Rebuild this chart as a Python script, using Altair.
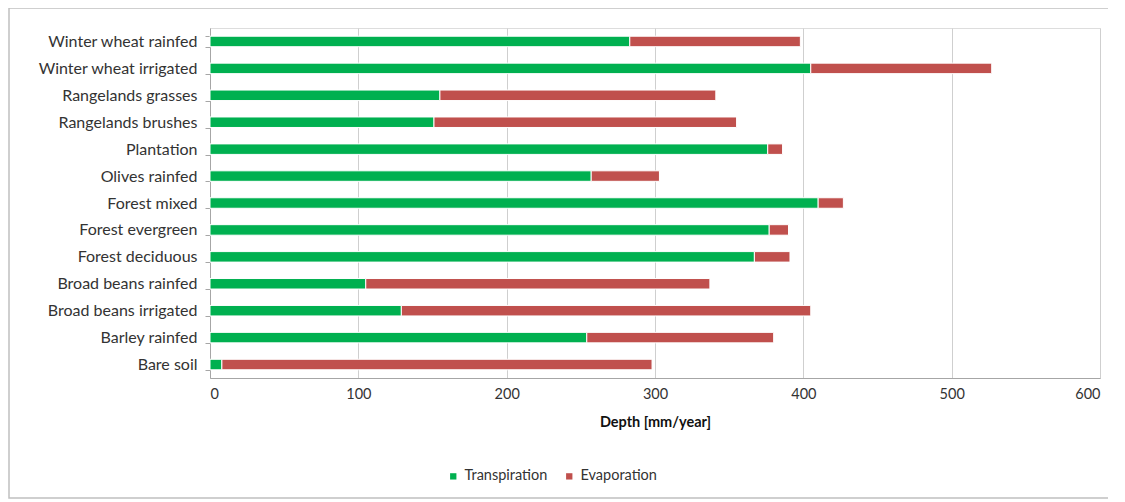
import altair as alt
import pandas as pd

categories = [
    "Winter wheat rainfed", "Winter wheat irrigated", "Rangelands grasses",
    "Rangelands brushes", "Plantation", "Olives rainfed", "Forest mixed",
    "Forest evergreen", "Forest deciduous", "Broad beans rainfed",
    "Broad beans irrigated", "Barley rainfed", "Bare soil",
]
transpiration = [283, 405, 155, 151, 376, 257, 410, 377, 367, 105, 129, 254, 8]
evaporation = [115, 122, 186, 204, 10, 46, 17, 13, 24, 232, 276, 126, 290]
series = ["Transpiration", "Evaporation"]
colors = ["#00B050", "#C0504D"]

rows = []
for c, t, e in zip(categories, transpiration, evaporation):
    rows.append({"Category": c, "Series": "Transpiration", "Value": t, "ord": 0})
    rows.append({"Category": c, "Series": "Evaporation", "Value": e, "ord": 1})
df = pd.DataFrame(rows)

FONT = "Lato"

bars = alt.Chart(df).mark_bar(size=10.5, stroke="white", strokeWidth=1).encode(
    y=alt.Y("Category:N", sort=categories, title=None,
            scale=alt.Scale(paddingInner=0.6, paddingOuter=0.3),
            axis=alt.Axis(labelFontSize=16, labelColor="#333333", labelFont=FONT,
                          labelPadding=8, tickBand="extent", tickSize=5,
                          tickColor="#a6a6a6", domainColor="#a6a6a6", grid=False)),
    x=alt.X("Value:Q", stack="zero", title="Depth [mm/year]",
            scale=alt.Scale(domain=[0, 600], nice=False),
            axis=alt.Axis(values=[0, 100, 200, 300, 400, 500, 600], labelFontSize=14.5,
                          labelColor="#333333", labelFont=FONT, ticks=False,
                          labelPadding=9, domainColor="#a6a6a6", gridColor="#cfcfcf",
                          titleFont=FONT, titleFontSize=14.5, titleFontWeight="bold",
                          titleColor="#111111", titlePadding=15)),
    color=alt.Color("Series:N", scale=alt.Scale(domain=series, range=colors),
                    legend=alt.Legend(title=None, orient="none", direction="horizontal",
                                      legendX=236, legendY=441, symbolType="square",
                                      symbolSize=40, labelFontSize=14.5, labelFont=FONT,
                                      labelColor="#333333", columnPadding=14,
                                      symbolStrokeWidth=0)),
    order=alt.Order("ord:Q"),
)

border = alt.Chart(pd.DataFrame({"a": [0]})).mark_rect(
    fill=None, stroke="#c0c0c0", strokeWidth=1.5, clip=False
).encode(
    x=alt.value(-201), x2=alt.value(940), y=alt.value(-20), y2=alt.value(470)
)

chart = alt.layer(border, bars).properties(
    width=890, height=350,
    autosize=alt.AutoSizeParams(type="none"),
    padding={"left": 202, "top": 20, "right": 8, "bottom": 122},
).configure_view(stroke=None).configure(background="white")

chart.save("out.html", embed_options={"renderer": "svg", "actions": False})
